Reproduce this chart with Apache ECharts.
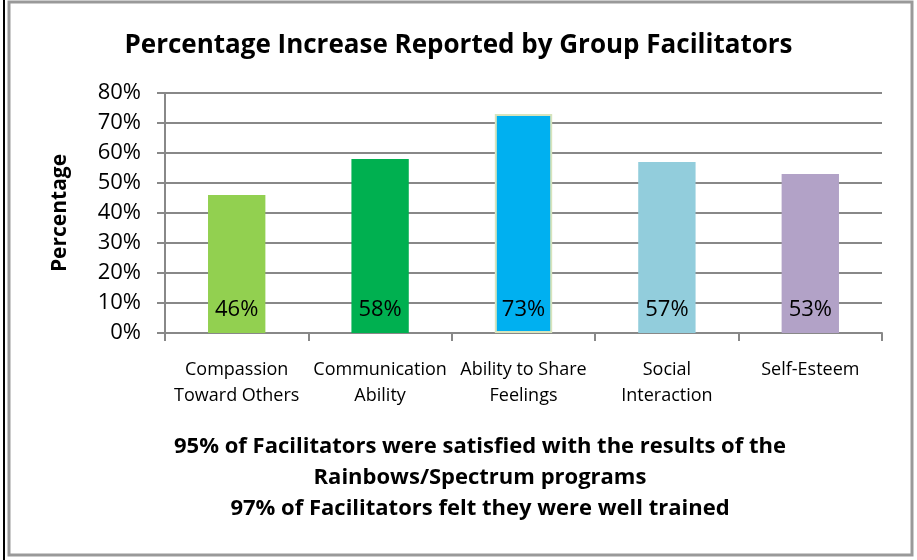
<!DOCTYPE html>
<html>
<head>
<meta charset="utf-8">
<script src="https://cdn.jsdelivr.net/npm/echarts@6/dist/echarts.min.js"></script>
<style>
  html, body { margin: 0; padding: 0; background: #fff; }
  #main { width: 917px; height: 560px; }
</style>
</head>
<body>
<div id="main"></div>
<script>
const categories = [
  'Compassion\nToward Others',
  'Communication\nAbility',
  'Ability to Share\nFeelings',
  'Social\nInteraction',
  'Self-Esteem'
];
const values = [46, 58, 73, 57, 53];
const barColors = ['#92D050', '#00B050', '#00B0F0', '#92CDDC', '#B2A2C7'];
const footerLines = [
  '95% of Facilitators were satisfied with the results of the',
  'Rainbows/Spectrum programs',
  '97% of Facilitators felt they were well trained'
];

const fontFamily = '"Open Sans", sans-serif';

const myChart = echarts.init(document.getElementById('main'));

const option = {
  backgroundColor: '#fff',
  animation: false,
  title: {
    text: 'Percentage Increase Reported by Group Facilitators',
    left: 'center',
    top: 28,
    textStyle: { fontFamily, fontSize: 26, fontWeight: 'bold', color: '#000' }
  },
  grid: { left: 165, right: 35, top: 93, bottom: 227 },
  xAxis: {
    type: 'category',
    data: categories,
    axisLine: { lineStyle: { color: '#888', width: 2 } },
    axisTick: { show: true, length: 8, lineStyle: { color: '#888', width: 2 } },
    axisLabel: {
      fontFamily, fontSize: 18, color: '#000', lineHeight: 26, margin: 24,
      interval: 0
    }
  },
  yAxis: {
    type: 'value',
    min: 0, max: 80, interval: 10,
    name: 'Percentage',
    nameLocation: 'middle',
    nameGap: 94,
    nameTextStyle: { fontFamily, fontSize: 21, fontWeight: 'bold', color: '#000' },
    axisLine: { show: true, lineStyle: { color: '#888', width: 2 } },
    axisTick: { show: true, length: 8, lineStyle: { color: '#888', width: 2 } },
    axisLabel: {
      fontFamily, fontSize: 22, color: '#000', margin: 24,
      formatter: '{value}%'
    },
    splitLine: { lineStyle: { color: '#888', width: 2 } }
  },
  series: [{
    type: 'bar',
    barWidth: '40%',
    data: values.map((v, i) => ({
      value: v,
      itemStyle: {
        color: barColors[i],
        borderColor: i === 2 ? '#D7E4BD' : barColors[i],
        borderWidth: i === 2 ? 2 : 0
      }
    })),
    label: {
      show: true,
      position: 'insideBottom',
      distance: 12,
      formatter: '{c}%',
      fontFamily, fontSize: 22, color: '#000'
    }
  }],
  graphic: [
    {
      type: 'rect',
      shape: { x: 9, y: 2, width: 903, height: 553 },
      style: { fill: 'none', stroke: '#999', lineWidth: 3 },
      silent: true
    },
    {
      type: 'line',
      shape: { x1: 4, y1: 0, x2: 4, y2: 560 },
      style: { stroke: '#000', lineWidth: 2 },
      silent: true
    },
    {
      type: 'text',
      x: 480,
      y: 431,
      style: {
        text: footerLines.join('\n'),
        fontFamily, fontSize: 22, fontWeight: 'bold', fill: '#000',
        lineHeight: 31, align: 'center'
      }
    }
  ]
};

myChart.setOption(option);
</script>
</body>
</html>
